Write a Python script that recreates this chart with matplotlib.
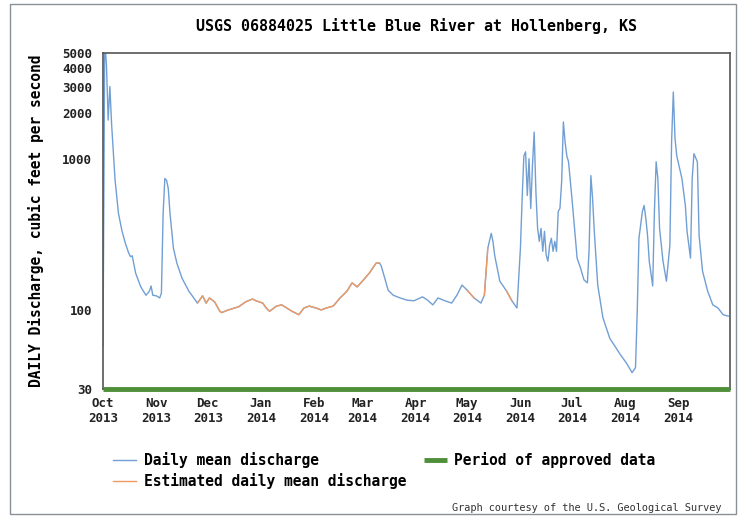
"""
USGS 06884025 Little Blue River at Hollenberg, KS - debit journalier moyen
(water year Oct 2013 - Sep 2014), valeurs relevees sur le graphique d'origine.
"""

import numpy as np
import matplotlib.pyplot as plt
from matplotlib.patches import Rectangle

start = np.datetime64("2013-10-01")
end = np.datetime64("2014-10-01")

# jours depuis le 1er octobre 2013
days = [
    0, 1, 2, 3, 4, 5, 6, 7, 9, 11, 13, 15, 16, 17, 18, 19, 22, 25, 27, 28,
    29, 31, 33, 34, 35, 36, 37, 38, 39, 41, 43, 46, 50, 54,
    55, 58, 60, 62, 65, 68, 69, 73, 79, 83, 87, 89, 93, 95, 97, 101, 104,
    107, 110, 114, 117, 120, 124, 127, 130, 134, 138, 142, 145, 148, 151,
    155, 159, 161,
    162, 166, 169, 173, 177, 181, 186, 189, 192, 195, 199, 203, 206, 209,
    212, 216, 220, 222, 224, 226, 227, 228, 231, 235, 238, 241,
    243, 244, 245, 246, 247, 248, 249, 250, 251, 252,
    253, 254, 255, 256, 257, 258, 259, 260, 261, 262, 263, 264, 265, 266,
    267, 268, 269, 270, 271, 273, 276, 278, 280, 282, 283, 284, 285, 286, 288,
    291, 295, 301, 305, 308, 310, 311, 312, 314, 315, 316, 317, 318, 320,
    321, 322, 323, 324, 326, 328, 330, 331, 332, 333, 334, 337, 339, 340,
    342, 343, 344, 346, 347, 349, 352, 355, 358, 361, 364,
]

# debit (pi3/s)
discharge = [
    58, 6000, 4200, 1800, 3000, 1700, 1100, 728, 435, 335, 276, 237, 225, 228, 200, 175, 142, 125, 133, 144,
    125, 124, 120, 129, 435, 740, 720, 635, 435, 256, 204, 162, 133, 115,
    111, 124, 111, 120, 113, 98, 96, 100, 105, 113, 118, 115, 111, 103, 98, 106, 108,
    103, 98, 93, 103, 106, 103, 100, 103, 106, 120, 133, 151, 142, 155,
    175, 204, 204,
    195, 135, 125, 120, 116, 115, 122, 116, 108, 120, 115, 111, 125, 146,
    135, 120, 111, 125, 256, 321, 284, 230, 155, 133, 115, 103,
    256, 545, 1045, 1110, 571, 1000, 469, 900, 1500, 607,
    346, 284, 346, 244, 331, 230, 210, 268, 298, 244, 284, 244, 448, 469,
    706, 1750, 1290, 1045, 955, 545, 220, 189, 158, 151, 256, 773, 545, 331, 146,
    89, 65, 51, 44, 38.5, 41.6, 98, 298, 448, 491, 403, 311, 210, 144,
    448, 955, 740, 346, 210, 155, 268, 1290, 2760, 1355, 1045, 740, 491, 331,
    220, 740, 1080, 955, 311, 181, 133, 108, 103, 93, 91,
]

# periodes de valeurs estimees (jours depuis le 1er octobre)
estimated_ranges = [(55, 161), (212, 216), (222, 224), (235, 238)]

month_starts = ["2013-10-01", "2013-11-01", "2013-12-01", "2014-01-01",
                "2014-02-01", "2014-03-01", "2014-04-01", "2014-05-01",
                "2014-06-01", "2014-07-01", "2014-08-01", "2014-09-01"]
month_labels = ["Oct\n2013", "Nov\n2013", "Dec\n2013", "Jan\n2014",
                "Feb\n2014", "Mar\n2014", "Apr\n2014", "May\n2014",
                "Jun\n2014", "Jul\n2014", "Aug\n2014", "Sep\n2014"]
y_ticks = [30, 100, 1000, 2000, 3000, 4000, 5000]

BLUE = "#719fd4"
ORANGE = "#f09a62"
GREEN = "#4f8f3a"
FONT = "DejaVu Sans Mono"

plt.rcParams["font.family"] = FONT
plt.rcParams["font.weight"] = "bold"

fig = plt.figure(figsize=(7.39, 5.18), dpi=100)
fig.patches.append(Rectangle((10 / 739, 4 / 518), 726 / 739, 510 / 518,
                             transform=fig.transFigure, fill=False,
                             edgecolor="#8a9098", linewidth=1.0))

ax = fig.add_axes([103 / 739, 1 - 389 / 518, 627 / 739, 336 / 518])

dates = start + np.array(days).astype("timedelta64[D]")
q = np.array(discharge, dtype=float)
d = np.array(days)

ax.plot(dates, q, color=BLUE, linewidth=1.0, label="Daily mean discharge", zorder=2)
for i, (a, b) in enumerate(estimated_ranges):
    m = (d >= a) & (d <= b)
    ax.plot(dates[m], q[m], color=ORANGE, linewidth=1.0, zorder=3,
            label="Estimated daily mean discharge" if i == 0 else None)

# periode de donnees approuvees, le long de l'axe du bas
ax.plot([start, end], [30, 30], color=GREEN, linewidth=3.5, solid_capstyle="butt",
        clip_on=False, zorder=4, label="Period of approved data")

ax.set_yscale("log")
ax.set_ylim(30, 5000)
ax.set_xlim(start, end)
ax.set_yticks(y_ticks)
ax.set_yticklabels([str(v) for v in y_ticks])
ax.minorticks_off()
ax.set_xticks([np.datetime64(m) for m in month_starts])
ax.set_xticklabels(month_labels)
ax.tick_params(length=0, labelsize=9, colors="#222222")
ax.tick_params(axis="y", pad=8)
ax.tick_params(axis="x", pad=6)
for s in ax.spines.values():
    s.set_color("#555555")
    s.set_linewidth(1.2)

ax.set_ylabel("DAILY Discharge, cubic feet per second", fontsize=10.5,
              fontweight="bold", labelpad=13)
ax.set_title("USGS 06884025 Little Blue River at Hollenberg, KS", fontsize=10.8,
             fontweight="bold", pad=16)

h, l = ax.get_legend_handles_labels()
order = [l.index("Daily mean discharge"), l.index("Estimated daily mean discharge"),
         l.index("Period of approved data")]
fig.legend([h[i] for i in order], [l[i] for i in order], ncol=2,
           loc="upper left", bbox_to_anchor=(113 / 739, 1 - 452 / 518),
           frameon=False, fontsize=10.5, handlelength=1.6, handletextpad=0.5,
           columnspacing=1.2, labelspacing=0.35, borderpad=0, borderaxespad=0)

fig.text(452 / 739, 1 - 508 / 518, "Graph courtesy of the U.S. Geological Survey",
         fontsize=7.4, fontweight="normal", va="center", color="#333333")

plt.savefig("out.png", dpi=100)
